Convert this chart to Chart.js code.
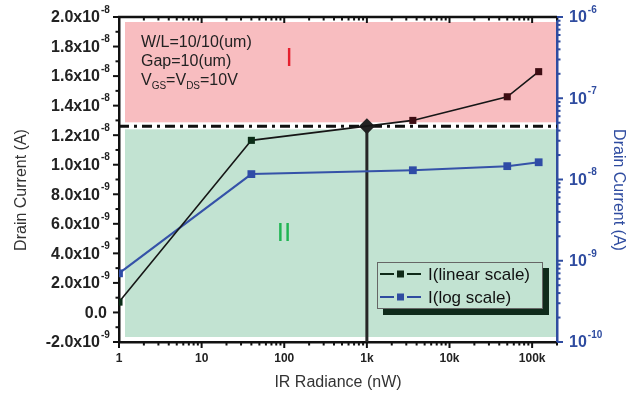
<!DOCTYPE html>
<html>
<head>
<meta charset="utf-8">
<script src="https://cdn.jsdelivr.net/npm/chart.js@4.4.0/dist/chart.umd.min.js"></script>
<style>
  html, body { margin: 0; padding: 0; background: #fff; }
</style>
</head>
<body>
<canvas id="grafico" width="636" height="396"></canvas>
<script>
// datos
const radiance = [1, 40, 3600, 50000, 120000];                       // nW
const drainCurrent = [0.7e-9, 1.165e-8, 1.3e-8, 1.46e-8, 1.63e-8];  // A
const thresholdX = 1000;
const thresholdY = 1.26e-8;

// ejes
const xMin = 1, xMax = 200000;
const xTicks = [1, 10, 100, 1000, 10000, 100000];
const xTickLabels = ['1', '10', '100', '1k', '10k', '100k'];
const leftTicks = [2.0e-8, 1.8e-8, 1.6e-8, 1.4e-8, 1.2e-8, 1.0e-8, 8e-9, 6e-9, 4e-9, 2e-9, 0, -2e-9];
const leftTickMantissa = ['2.0x10', '1.8x10', '1.6x10', '1.4x10', '1.2x10', '1.0x10', '8.0x10', '6.0x10', '4.0x10', '2.0x10', '0.0', '-2.0x10'];
const leftTickExp = ['-8', '-8', '-8', '-8', '-8', '-8', '-9', '-9', '-9', '-9', '', '-9'];
const rightTicks = [1e-6, 1e-7, 1e-8, 1e-9, 1e-10];
const rightTickExp = ['-6', '-7', '-8', '-9', '-10'];

const FONT = 'Liberation Sans, Arial, sans-serif';
const AZUL = '#2f4ca0';

const puntosLineal = radiance.map((x, i) => ({ x: x, y: drainCurrent[i] }));
const puntosLog = radiance.map((x, i) => ({ x: x, y: drainCurrent[i] }));

function linea(ctx, x1, y1, x2, y2) {
  ctx.beginPath();
  ctx.moveTo(x1, y1);
  ctx.lineTo(x2, y2);
  ctx.stroke();
}

// fondos rosado / verde
const fondoPlugin = {
  id: 'fondo',
  beforeDatasetsDraw(chart) {
    const { ctx, chartArea: a, scales } = chart;
    const yt = scales.y.getPixelForValue(thresholdY);
    ctx.save();
    ctx.fillStyle = '#f8bdc0';
    ctx.fillRect(a.left + 6, a.top + 5, a.right - a.left - 7, yt - 4 - (a.top + 5));
    ctx.fillStyle = '#c2e3d2';
    ctx.fillRect(a.left + 6, yt + 3, a.right - a.left - 7, a.bottom - 5 - (yt + 3));
    ctx.restore();
  },
  afterDraw(chart) {
    const { ctx, chartArea: a, scales: { x, y, y2 } } = chart;
    ctx.save();

    // borde de arriba
    ctx.strokeStyle = '#111';
    ctx.lineWidth = 2.5;
    linea(ctx, a.left - 1, a.top, a.right, a.top);

    // ticks eje x (abajo y arriba)
    ctx.lineWidth = 2;
    for (let e = 0; e <= 5; e++) {
      for (let m = 1; m <= 9; m++) {
        const v = m * Math.pow(10, e);
        if (v > xMax) break;
        const px = x.getPixelForValue(v);
        const len = m === 1 ? 6 : 3.5;
        linea(ctx, px, a.bottom, px, a.bottom + len);
        linea(ctx, px, a.top, px, a.top + len);
      }
    }

    // ticks eje izquierdo
    for (let k = -2; k <= 20; k++) {
      const py = y.getPixelForValue(k * 1e-9);
      const len = k % 2 === 0 ? 6 : 3.5;
      linea(ctx, a.left - len, py, a.left, py);
    }

    // ticks eje derecho (log)
    ctx.strokeStyle = AZUL;
    for (let e = -10; e <= -6; e++) {
      for (let m = 1; m <= 9; m++) {
        const v = m * Math.pow(10, e);
        if (v > 1.0001e-6) break;
        const py = y2.getPixelForValue(v);
        const len = m === 1 ? 6 : 3.5;
        linea(ctx, a.right, py, a.right + len, py);
      }
    }

    // etiquetas eje izquierdo
    ctx.textBaseline = 'middle';
    leftTicks.forEach((v, i) => {
      const py = y.getPixelForValue(v);
      ctx.fillStyle = '#222';
      ctx.font = 'bold 16px ' + FONT;
      ctx.textAlign = 'right';
      if (leftTickExp[i]) {
        ctx.fillText(leftTickMantissa[i], 100, py + 1);
        ctx.font = 'bold 10px ' + FONT;
        ctx.textAlign = 'left';
        ctx.fillText(leftTickExp[i], 101, py - 7);
      } else {
        ctx.fillText(leftTickMantissa[i], 107, py + 1);
      }
    });

    // etiquetas eje derecho
    rightTicks.forEach((v, i) => {
      const py = y2.getPixelForValue(v);
      ctx.fillStyle = AZUL;
      ctx.textAlign = 'left';
      ctx.font = 'bold 16px ' + FONT;
      ctx.fillText('10', 569, py + 1);
      const w = ctx.measureText('10').width;
      ctx.font = 'bold 10px ' + FONT;
      ctx.fillText(rightTickExp[i], 569 + w + 1, py - 7);
    });

    // titulos de ejes
    ctx.font = '16px ' + FONT;
    ctx.textAlign = 'center';
    ctx.fillStyle = '#333';
    ctx.save();
    ctx.translate(22, 190);
    ctx.rotate(-Math.PI / 2);
    ctx.fillText('Drain Current (A)', 0, 0);
    ctx.restore();
    ctx.save();
    ctx.fillStyle = AZUL;
    ctx.translate(618, 190);
    ctx.rotate(Math.PI / 2);
    ctx.fillText('Drain Current (A)', 0, 0);
    ctx.restore();
    ctx.fillText('IR Radiance (nW)', 338, 383);

    // anotaciones
    ctx.textAlign = 'left';
    ctx.textBaseline = 'alphabetic';
    ctx.fillStyle = '#222';
    ctx.font = '16px ' + FONT;
    ctx.fillText('W/L=10/10(um)', 141, 47);
    ctx.fillText('Gap=10(um)', 141, 66);
    let cx = 141;
    const partes = [['V', 16, 0], ['GS', 10, 4], ['=V', 16, 0], ['DS', 10, 4], ['=10V', 16, 0]];
    partes.forEach(p => {
      ctx.font = p[1] + 'px ' + FONT;
      ctx.fillText(p[0], cx, 85 + p[2]);
      cx += ctx.measureText(p[0]).width;
    });
    ctx.textAlign = 'center';
    ctx.textBaseline = 'middle';
    ctx.font = '26px ' + FONT;
    ctx.fillStyle = '#e5202e';
    ctx.fillText('I', 289, 59);
    ctx.fillStyle = '#1fb552';
    ctx.fillText('II', 284, 234);

    // leyenda
    ctx.fillStyle = '#0f2b1b';
    ctx.fillRect(383, 268, 166, 47);
    ctx.fillStyle = '#c2e3d2';
    ctx.fillRect(377, 262, 166, 47);
    ctx.strokeStyle = '#666';
    ctx.lineWidth = 1;
    ctx.strokeRect(377.5, 262.5, 165, 46);
    const items = [['I(linear scale)', '#0f2a18', 274], ['I(log scale)', AZUL, 297]];
    items.forEach(it => {
      ctx.strokeStyle = it[1];
      ctx.fillStyle = it[1];
      ctx.lineWidth = 2;
      linea(ctx, 380, it[2], 394, it[2]);
      linea(ctx, 407, it[2], 421, it[2]);
      ctx.fillRect(397, it[2] - 3.5, 7, 7);
      ctx.fillStyle = '#111';
      ctx.font = '17px ' + FONT;
      ctx.textAlign = 'left';
      ctx.fillText(it[0], 428, it[2] + 1);
    });

    ctx.restore();
  }
};

new Chart(document.getElementById('grafico'), {
  type: 'line',
  data: {
    datasets: [
      {
        label: 'I(linear scale)',
        data: puntosLineal,
        yAxisID: 'y',
        borderColor: '#161616',
        borderWidth: 1.6,
        pointStyle: 'rect',
        pointRadius: 5,
        pointBorderWidth: 0,
        pointBackgroundColor: c => (c.raw && c.raw.y > thresholdY ? '#3d0c12' : '#0b2c17'),
        order: 1
      },
      {
        label: 'I(log scale)',
        data: puntosLog,
        yAxisID: 'y2',
        borderColor: '#3552a8',
        borderWidth: 2,
        pointStyle: 'rect',
        pointRadius: 5.5,
        pointBorderWidth: 0,
        pointBackgroundColor: '#2f4ca6',
        order: 2
      },
      {
        label: 'umbral',
        data: [{ x: xMin, y: thresholdY }, { x: xMax, y: thresholdY }],
        yAxisID: 'y',
        borderColor: '#111',
        borderWidth: 3,
        borderDash: [10, 5, 3, 5],
        pointRadius: 0,
        order: 4
      },
      {
        label: 'corte',
        data: [{ x: thresholdX, y: thresholdY }, { x: thresholdX, y: -2e-9 }],
        yAxisID: 'y',
        borderColor: '#262626',
        borderWidth: 3,
        pointStyle: 'rectRot',
        pointRadius: [8, 0],
        pointBorderWidth: 0,
        pointBackgroundColor: '#222',
        order: 3
      }
    ]
  },
  options: {
    responsive: false,
    animation: false,
    layout: { padding: { top: 17, left: 0, right: 0, bottom: 0 } },
    plugins: { legend: { display: false }, tooltip: { enabled: false } },
    scales: {
      x: {
        type: 'logarithmic',
        min: xMin,
        max: xMax,
        afterFit: s => { s.height = 54; },
        afterBuildTicks: s => { s.ticks = xTicks.map(v => ({ value: v })); },
        grid: { display: false, drawTicks: false },
        border: { display: true, color: '#111', width: 2.5 },
        ticks: {
          autoSkip: false,
          maxRotation: 0,
          padding: 9,
          color: '#222',
          font: { family: FONT, size: 12, weight: 'bold' },
          callback: (v, i) => xTickLabels[i]
        }
      },
      y: {
        type: 'linear',
        position: 'left',
        min: -2e-9,
        max: 2e-8,
        afterFit: s => { s.width = 119; },
        grid: { display: false, drawTicks: false },
        border: { display: true, color: '#111', width: 2.5 },
        ticks: { display: false }
      },
      y2: {
        type: 'logarithmic',
        position: 'right',
        min: 1e-10,
        max: 1e-6,
        afterFit: s => { s.width = 79; },
        grid: { display: false, drawTicks: false },
        border: { display: true, color: AZUL, width: 2.5 },
        ticks: { display: false }
      }
    }
  },
  plugins: [fondoPlugin]
});
</script>
</body>
</html>
